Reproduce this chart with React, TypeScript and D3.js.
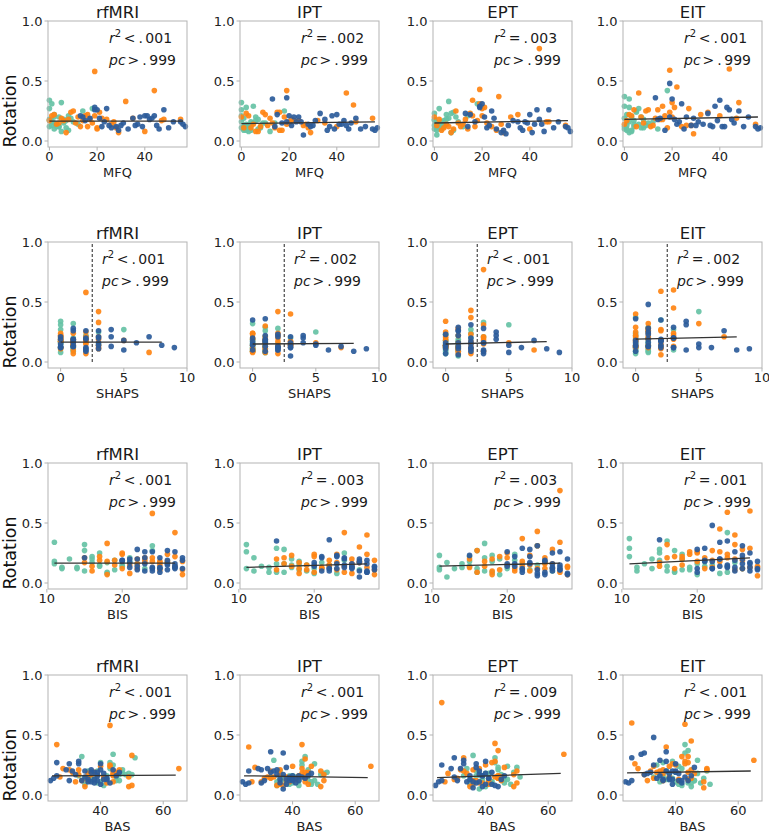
import React from "react";
import * as d3 from "d3";

// ---- Data (one entry per subject) ----
// group: T = teal, O = orange, B = blue
const group = [
  "T","T","T","T","T","T","T","T","T","T","T","T","T","T","T","T","T","T","T","T","T","T","T","T","T","T","T","T","T","T","T","T",
  "O","O","O","O","O","O","O","O","O","O","O","O","O","O","O","O","O","O","O","O","O","O","O","O","O","O","O","O","O","O","O","O","O","O","O","O","O","O",
  "B","B","B","B","B","B","B","B","B","B","B","B","B","B","B","B","B","B","B","B","B","B","B","B","B","B","B","B","B","B","B","B","B","B","B","B",
];
const mfq = [
  0,0,1,0,1,2,3,4,5,0,2,4,1,6,3,7,8,18,9,2,6,10,3,1,4,0,7,12,14,5,2,8,
  19,44,32,16,47,27,6,22,20,0,1,3,5,7,8,9,10,11,12,13,14,15,17,18,20,21,24,26,28,29,35,40,48,55,2,4,16,19,
  19,13,20,24,48,40,57,56,55,44,42,38,37,33,30,28,26,23,21,17,15,14,19,22,25,35,39,41,43,45,50,52,46,31,36,29,
];
const shaps = [
  0,1,0,1,1,0,1,0,1,0,2,1,0,3,1,0,1,5,2,0,1,0,1,0,1,0,0,1,3,0,1,2,
  2,3,3,0,1,2,0,3,1,0,0,1,0,1,2,0,2,1,0,3,1,2,0,2,3,1,2,3,0,2,1,7,5,1,0,1,0,3,
  1,0,2,4,1,4,9,8,6,7,5,3,3,2,1,0,3,1,2,0,1,2,3,0,4,1,2,3,1,0,2,3,5,0,1,2,
];
const bis = [
  11,11,11,12,12,13,14,14,15,15,16,16,16,17,17,18,18,24,19,20,21,22,23,24,25,26,19,20,17,18,15,21,
  24,27,18,27,26,22,25,23,16,15,15,16,17,18,18,20,20,21,22,22,23,23,24,25,25,26,26,27,28,28,19,21,25,28,17,19,20,24,
  22,15,24,26,27,23,28,27,26,25,20,21,22,23,24,25,26,27,28,20,21,22,23,24,25,26,27,28,20,21,22,23,24,26,27,25,
];
const bas = [
  44,47,42,45,38,36,37,46,34,40,43,39,48,36,41,50,35,43,37,45,49,33,42,51,38,46,40,35,44,41,39,47,
  43,26,50,65,44,44,37,45,42,33,30,36,31,35,38,40,43,41,44,34,39,46,45,49,32,43,36,41,44,49,38,50,44,45,28,27,36,33,
  33,37,30,26,33,29,24,25,26,40,41,35,42,38,36,39,37,45,38,39,32,31,40,34,42,46,30,44,37,41,36,39,43,35,38,40,
];
const rotRfmri = [
  0.34,0.18,0.16,0.12,0.13,0.20,0.13,0.12,0.32,0.27,0.22,0.20,0.17,0.15,0.14,0.17,0.09,0.27,0.19,0.15,0.18,0.16,0.12,0.31,0.12,0.17,0.11,0.14,0.25,0.08,0.10,0.21,
  0.58,0.42,0.33,0.22,0.17,0.16,0.17,0.19,0.10,0.17,0.21,0.14,0.19,0.07,0.18,0.24,0.25,0.15,0.20,0.12,0.17,0.21,0.18,0.15,0.11,0.24,0.18,0.14,0.11,0.07,0.19,0.08,0.18,0.18,0.22,0.15,0.12,0.21,
  0.28,0.21,0.26,0.27,0.26,0.21,0.12,0.14,0.16,0.21,0.18,0.20,0.14,0.10,0.13,0.12,0.11,0.16,0.19,0.19,0.17,0.20,0.26,0.12,0.13,0.19,0.12,0.21,0.19,0.13,0.11,0.16,0.10,0.15,0.13,0.09,
];
const rotIpt = [
  0.32,0.26,0.12,0.21,0.10,0.14,0.13,0.09,0.29,0.16,0.28,0.16,0.09,0.20,0.13,0.18,0.11,0.25,0.15,0.12,0.17,0.15,0.08,0.19,0.13,0.11,0.10,0.08,0.15,0.15,0.09,0.12,
  0.42,0.40,0.17,0.24,0.30,0.14,0.08,0.17,0.16,0.20,0.11,0.21,0.14,0.08,0.12,0.24,0.22,0.13,0.19,0.15,0.11,0.24,0.09,0.20,0.15,0.18,0.17,0.13,0.11,0.07,0.15,0.12,0.16,0.19,0.23,0.11,0.09,0.14,
  0.36,0.35,0.21,0.20,0.19,0.22,0.11,0.09,0.10,0.13,0.14,0.21,0.12,0.23,0.13,0.14,0.05,0.16,0.13,0.15,0.22,0.12,0.16,0.20,0.16,0.18,0.10,0.14,0.17,0.10,0.10,0.12,0.15,0.17,0.09,0.12,
];
const rotEpt = [
  0.23,0.13,0.11,0.17,0.05,0.12,0.16,0.13,0.22,0.18,0.27,0.12,0.09,0.33,0.10,0.23,0.09,0.31,0.20,0.14,0.19,0.16,0.11,0.15,0.17,0.10,0.07,0.12,0.21,0.18,0.14,0.24,
  0.43,0.77,0.20,0.34,0.16,0.37,0.12,0.15,0.27,0.20,0.13,0.09,0.14,0.07,0.10,0.25,0.15,0.12,0.14,0.18,0.10,0.23,0.12,0.17,0.21,0.28,0.12,0.09,0.14,0.07,0.22,0.10,0.16,0.13,0.18,0.11,0.21,0.31,
  0.29,0.23,0.31,0.25,0.26,0.22,0.08,0.11,0.12,0.18,0.14,0.16,0.09,0.17,0.06,0.07,0.10,0.13,0.20,0.16,0.22,0.12,0.28,0.11,0.19,0.16,0.15,0.07,0.26,0.14,0.11,0.16,0.08,0.13,0.11,0.09,
];
const rotEit = [
  0.37,0.29,0.22,0.10,0.13,0.16,0.20,0.12,0.25,0.19,0.35,0.14,0.10,0.27,0.09,0.20,0.11,0.42,0.13,0.07,0.14,0.15,0.08,0.09,0.17,0.12,0.11,0.16,0.10,0.24,0.28,0.18,
  0.59,0.60,0.22,0.29,0.19,0.27,0.40,0.45,0.32,0.14,0.17,0.21,0.12,0.20,0.15,0.25,0.26,0.12,0.13,0.19,0.26,0.18,0.21,0.11,0.20,0.28,0.12,0.13,0.13,0.06,0.24,0.21,0.32,0.14,0.22,0.26,0.18,0.24,
  0.48,0.36,0.35,0.31,0.25,0.34,0.11,0.10,0.12,0.26,0.12,0.29,0.12,0.14,0.13,0.13,0.20,0.16,0.18,0.09,0.19,0.18,0.20,0.14,0.10,0.23,0.17,0.12,0.28,0.18,0.12,0.20,0.15,0.16,0.13,0.19,
];

// Panel labels and stats
const tasks = ["rfMRI", "IPT", "EPT", "EIT"];
const measures = ["MFQ", "SHAPS", "BIS", "BAS"];
const measureDomains = [[-0.6, 57.7], [-1, 10], [10.15, 28.6], [23.2, 67.6]];
const measureTicks = [[0, 20, 40], [0, 5, 10], [10, 20], [40, 60]];
const fitXRange = [[0, 56], [0, 8], [11, 27], [24.5, 64]];
// fitted line values (rotation) at start / end of fitXRange, rows = measures, cols = tasks
const fitStart = [
  [0.165, 0.145, 0.150, 0.180],
  [0.165, 0.150, 0.150, 0.190],
  [0.165, 0.130, 0.140, 0.160],
  [0.160, 0.160, 0.145, 0.185],
];
const fitEnd = [
  [0.165, 0.160, 0.170, 0.200],
  [0.165, 0.155, 0.170, 0.210],
  [0.165, 0.160, 0.165, 0.210],
  [0.165, 0.145, 0.180, 0.200],
];
const r2Op = [
  ["<", "=", "=", "<"],
  ["<", "=", "<", "="],
  ["<", "=", "=", "="],
  ["<", "<", "=", "<"],
];
const r2Val = [
  ["001", "002", "003", "001"],
  ["001", "002", "001", "002"],
  ["001", "003", "003", "001"],
  ["001", "001", "009", "001"],
];
const pcVal = "999";
const shapsCutoff = 2.5;
const yTicks = [0, 0.5, 1.0];
const yDomain = [-0.05, 1.0];

const groupColor: Record<string, string> = { T: "#66c2a5", O: "#ff8412", B: "#2b5b9a" };

// ---- Layout ----
const colLeft = [48, 240, 433, 623];
const rowTop = [21, 242, 463, 675];
const panelW = 139;
const panelH = 126;
const textOffsetX = [61, 54, 61, 61];

const FONT = "DejaVu Sans, sans-serif";

function Panel({ row, col }: { row: number; col: number }) {
  const left = colLeft[col];
  const top = rowTop[row];
  const x = d3.scaleLinear().domain(measureDomains[row]).range([left, left + panelW]);
  const y = d3.scaleLinear().domain(yDomain).range([top + panelH, top]);
  const xs = [mfq, shaps, bis, bas][row];
  const ys = [rotRfmri, rotIpt, rotEpt, rotEit][col];
  const line = d3.line<[number, number]>().x((d) => x(d[0])).y((d) => y(d[1]));
  const fit: [number, number][] = [
    [fitXRange[row][0], fitStart[row][col]],
    [fitXRange[row][1], fitEnd[row][col]],
  ];
  const order = ["T", "O", "B"];
  const idx = d3.range(group.length).sort((a, b) => order.indexOf(group[a]) - order.indexOf(group[b]));
  const tx = left + textOffsetX[row];
  const spine = "#b3b3b3";
  return (
    <g>
      <text x={left + panelW / 2} y={top - 3} textAnchor="middle" fontSize={16.5} fill="#1a1a1a" fontFamily={FONT}>
        {tasks[col]}
      </text>
      {idx.map((i) => (
        <circle key={i} cx={x(xs[i])} cy={y(ys[i])} r={2.8} fill={groupColor[group[i]]} fillOpacity={0.92} />
      ))}
      {row === 1 && (
        <line
          x1={x(shapsCutoff)} x2={x(shapsCutoff)} y1={y(0)} y2={y(1)}
          stroke="#222" strokeWidth={1} strokeDasharray="3,2"
        />
      )}
      <path d={line(fit) || ""} stroke="#333" strokeWidth={1.3} fill="none" />
      <rect x={left} y={top} width={panelW} height={panelH} fill="none" stroke={spine} strokeWidth={1} />
      {yTicks.map((t) => (
        <g key={"y" + t}>
          <line x1={left - 3.5} x2={left} y1={y(t)} y2={y(t)} stroke={spine} />
          <text x={left - 5.5} y={y(t) + 4.7} textAnchor="end" fontSize={13} fill="#222" fontFamily={FONT}>
            {t.toFixed(1)}
          </text>
        </g>
      ))}
      {measureTicks[row].map((t) => (
        <g key={"x" + t}>
          <line x1={x(t)} x2={x(t)} y1={top + panelH} y2={top + panelH + 3.5} stroke={spine} />
          <text x={x(t)} y={top + panelH + 13.5} textAnchor="middle" fontSize={13} fill="#222" fontFamily={FONT}>
            {t}
          </text>
        </g>
      ))}
      <text x={left + panelW / 2} y={top + panelH + 29.5} textAnchor="middle" fontSize={13} fill="#222" fontFamily={FONT}>
        {measures[row]}
      </text>
      <text x={tx} y={top + 22} fontSize={14} fill="#1a1a1a" fontFamily={FONT}>
        <tspan fontStyle="italic">r</tspan>
        <tspan fontSize={10} dy={-6}>2</tspan>
        <tspan dy={6} dx={2.5}>{r2Op[row][col]}</tspan>
        <tspan dx={3}>.</tspan>
        <tspan dx={2.5}>{r2Val[row][col]}</tspan>
      </text>
      <text x={tx} y={top + 44} fontSize={14} fill="#1a1a1a" fontFamily={FONT}>
        <tspan fontStyle="italic">pc</tspan>
        <tspan dx={2}>{">"}</tspan>
        <tspan dx={3}>.</tspan>
        <tspan dx={2.5}>{pcVal}</tspan>
      </text>
      {col === 0 && (
        <text
          transform={`translate(${16}, ${top + 90}) rotate(-90)`}
          textAnchor="middle" fontSize={17.5} fill="#111" fontFamily={FONT}
        >
          Rotation
        </text>
      )}
    </g>
  );
}

export default function App() {
  const cells: { r: number; c: number }[] = [];
  for (let r = 0; r < 4; r++) for (let c = 0; c < 4; c++) cells.push({ r, c });
  return (
    <svg
      width={769}
      height={834}
      style={{ position: "absolute", left: 0, top: 0, background: "#fff" }}
    >
      {cells.map(({ r, c }) => (
        <Panel key={`${r}-${c}`} row={r} col={c} />
      ))}
    </svg>
  );
}
